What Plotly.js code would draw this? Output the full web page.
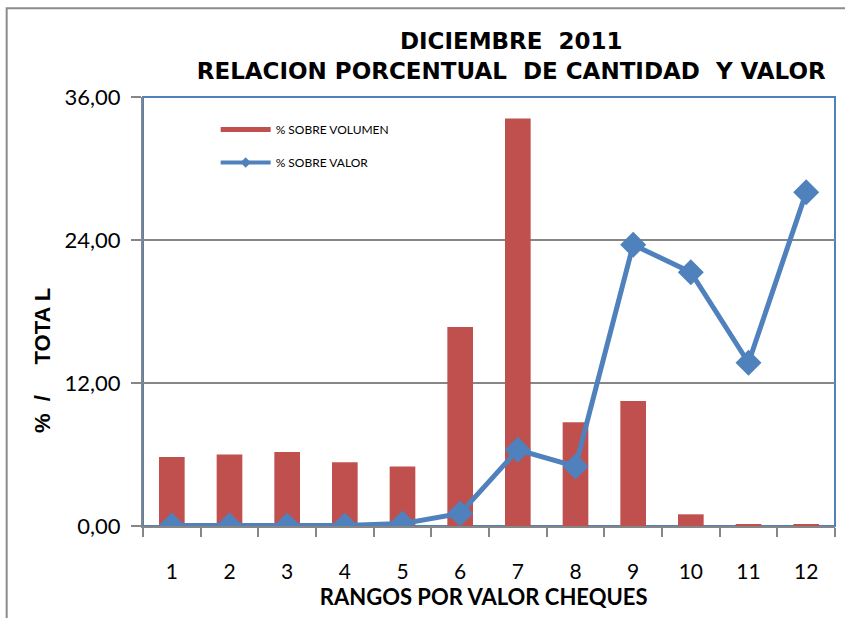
<!DOCTYPE html>
<html>
<head>
<meta charset="utf-8">
<script src="https://cdn.plot.ly/plotly-3.0.1.min.js"></script>
<style>
  body { margin: 0; background: #fff; }
  #chart { width: 845px; height: 618px; }
</style>
</head>
<body>
<div id="chart"></div>
<script>
var rangos = ['1', '2', '3', '4', '5', '6', '7', '8', '9', '10', '11', '12'];
var volumen = [5.8, 6.0, 6.2, 5.35, 5.0, 16.7, 34.2, 8.7, 10.5, 0.98, 0.1, 0.1];
var valor = [0.05, 0.05, 0.05, 0.05, 0.2, 1.05, 6.4, 5.0, 23.6, 21.3, 13.7, 28.0];

var azul = '#4F81BD';
var rojo = '#C0504D';

var barras = {
  x: rangos,
  y: volumen,
  type: 'bar',
  name: '% SOBRE VOLUMEN',
  showlegend: false,
  marker: {color: rojo}
};

var linea = {
  x: rangos,
  y: valor,
  type: 'scatter',
  mode: 'lines+markers',
  name: '% SOBRE VALOR',
  showlegend: false,
  line: {color: azul, width: 5},
  marker: {color: azul, symbol: 'diamond', size: 20}
};

// entradas de leyenda al estilo Excel (sin datos)
var leyBarras = {
  x: [null], y: [null], type: 'scatter', mode: 'lines',
  name: '% SOBRE VOLUMEN', legendgroup: 'a', hoverinfo: 'skip',
  line: {color: rojo, width: 5}
};
var leyLinea = {
  x: [null], y: [null], type: 'scatter', mode: 'lines+markers',
  name: '% SOBRE VALOR', legendgroup: 'b', hoverinfo: 'skip',
  line: {color: azul, width: 4},
  marker: {color: azul, symbol: 'diamond', size: 8}
};

var layout = {
  width: 845,
  height: 618,
  paper_bgcolor: '#fff',
  plot_bgcolor: '#fff',
  margin: {l: 143, r: 10, t: 97, b: 92},
  separators: ',.',
  bargap: 0.555,
  showlegend: true,
  font: {family: 'Lato, Liberation Sans, sans-serif', color: '#000'},
  title: {
    text: 'DICIEMBRE\u00a0 2011<br>RELACION PORCENTUAL\u00a0 DE CANTIDAD\u00a0 Y VALOR',
    font: {family: 'DejaVu Sans, sans-serif', size: 23, color: '#000', weight: 'bold'},
    x: 0.605, xanchor: 'center',
    y: 0.92, yanchor: 'middle'
  },
  legend: {
    x: 0.105, y: 0.958, xanchor: 'left', yanchor: 'top',
    bgcolor: 'rgba(0,0,0,0)',
    font: {size: 12, family: 'Lato, sans-serif'},
    traceorder: 'grouped',
    tracegroupgap: 14,
    itemwidth: 50
  },
  xaxis: {
    type: 'category',
    range: [-0.5, 11.5],
    tickson: 'boundaries',
    ticks: 'outside',
    ticklen: 9,
    tickcolor: '#868686',
    tickwidth: 2,
    showline: true,
    linecolor: '#868686',
    linewidth: 2,
    showgrid: false,
    tickfont: {size: 21},
    ticklabelstandoff: 26,
    title: {text: '<b>RANGOS POR VALOR CHEQUES\u00a0\u00a0</b>', font: {size: 22}, standoff: 0},
    fixedrange: true
  },
  yaxis: {
    range: [0, 36],
    dtick: 12,
    tickformat: '.2f',
    ticks: 'outside',
    ticklen: 10,
    tickcolor: '#868686',
    tickwidth: 2,
    showline: true,
    linecolor: '#868686',
    linewidth: 2,
    showgrid: true,
    gridcolor: '#868686',
    gridwidth: 2,
    zeroline: false,
    tickfont: {size: 22},
    ticklabelstandoff: 6,
    title: {
      text: '<b>%\u00a0 /\u00a0\u00a0\u00a0\u00a0 TOTA L' + '\u00a0'.repeat(16) + '</b>',
      font: {size: 22, family: 'Liberation Sans, Arial, sans-serif'},
      standoff: 8
    },
    fixedrange: true
  },
  shapes: [
    // borde del area del grafico
    {type: 'rect', xref: 'paper', yref: 'paper', x0: 0, x1: 1, y0: 0, y1: 1,
     line: {color: azul, width: 2}, layer: 'below'},
    // borde exterior
    {type: 'rect', xref: 'paper', yref: 'paper', x0: -0.197, x1: 1.2, y0: -0.4, y1: 1.207,
     line: {color: '#8C8C8C', width: 2}}
  ]
};

Plotly.newPlot('chart', [barras, linea, leyBarras, leyLinea], layout, {displayModeBar: false});
</script>
</body>
</html>
